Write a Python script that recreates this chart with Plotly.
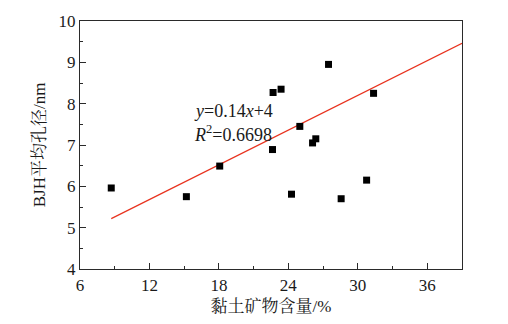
import numpy as np
import plotly.graph_objects as go

# Clay mineral content (%) vs. BJH average pore diameter (nm)
clay_content = [8.70, 15.19, 18.07, 22.63, 22.68, 23.37, 24.27, 24.99,
                26.09, 26.37, 27.47, 28.56, 30.76, 31.36]
pore_diameter = [5.96, 5.75, 6.49, 6.89, 8.27, 8.35, 5.81, 7.45,
                 7.05, 7.15, 8.95, 5.70, 6.15, 8.25]

# Linear fit y = slope * x + intercept
slope = 0.14
intercept = 4
r_squared = 0.6698
fit_x = np.array([min(clay_content), 39.0])
fit_y = slope * fit_x + intercept

x_ticks = [6, 12, 18, 24, 30, 36]
y_ticks = [4, 5, 6, 7, 8, 9, 10]

serif = "Liberation Serif, Times New Roman, serif"
cjk = "Liberation Serif, Noto Serif CJK SC, Noto Sans CJK SC, serif"
axis_color = "#2a2a2a"
text_color = "#1a1a1a"

fig = go.Figure()

fig.add_trace(go.Scatter(
    x=fit_x, y=fit_y, mode="lines",
    line=dict(color="#e8321e", width=1.2),
    hoverinfo="skip", showlegend=False,
))

fig.add_trace(go.Scatter(
    x=clay_content, y=pore_diameter, mode="markers",
    marker=dict(symbol="square", size=7, color="black"),
    showlegend=False,
))

fig.add_annotation(
    x=15.7, y=7.83, xref="x", yref="y", xanchor="left", yanchor="middle",
    text="<i>y</i>=0.14<i>x</i>+4", showarrow=False,
    font=dict(family=serif, size=18, color=text_color),
)
fig.add_annotation(
    x=15.7, y=7.29, xref="x", yref="y", xanchor="left", yanchor="middle",
    text=f"<i>R</i><sup>2</sup>={r_squared}", showarrow=False,
    font=dict(family=serif, size=18, color=text_color),
)

axis_common = dict(
    showgrid=False, zeroline=False,
    showline=True, linecolor=axis_color, linewidth=1.3, mirror=True,
    ticks="inside", ticklen=6, tickwidth=1.3, tickcolor=axis_color,
    tickfont=dict(family=serif, size=17, color=text_color),
)

fig.update_xaxes(
    range=[6, 39], tickvals=x_ticks,
    minor=dict(ticks="inside", ticklen=3, tickwidth=1.3, tickcolor=axis_color, dtick=3, tick0=6),
    title=dict(text="黏土矿物含量/%", font=dict(family=cjk, size=17, color=text_color), standoff=6),
    **axis_common,
)
fig.update_yaxes(
    range=[4, 10], tickvals=y_ticks,
    minor=dict(ticks="inside", ticklen=3, tickwidth=1.3, tickcolor=axis_color, dtick=0.5, tick0=4),
    title=dict(text="BJH平均孔径/nm", font=dict(family=cjk, size=17, color=text_color), standoff=8),
    **axis_common,
)

fig.update_layout(
    width=508, height=324,
    margin=dict(l=80, r=46, t=16, b=54),
    paper_bgcolor="white", plot_bgcolor="white",
)

fig.write_html("out.html")
